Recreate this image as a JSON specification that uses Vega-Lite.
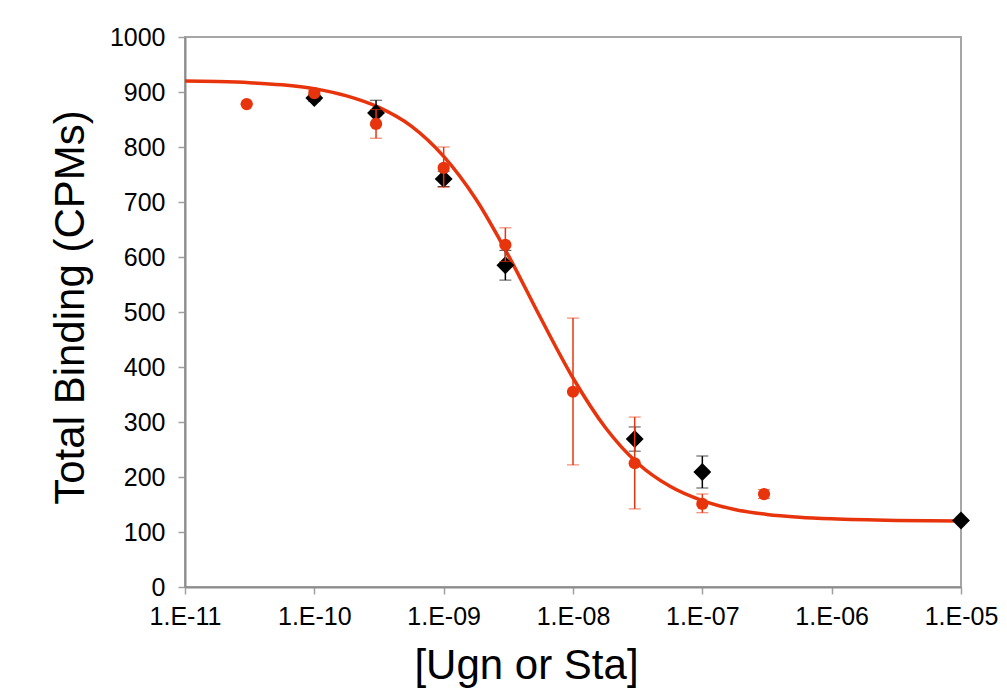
{
  "$schema": "https://vega.github.io/schema/vega-lite/v6.json",
  "width": 776,
  "height": 550,
  "autosize": "none",
  "padding": {"left": 185, "top": 37, "right": 46, "bottom": 111},
  "background": "white",
  "config": {
    "view": {"stroke": "#a6a6a6", "strokeWidth": 2},
    "font": "Liberation Sans"
  },
  "datasets": {
    "curve": [
      {"conc": 1e-11, "cpm": 920},
      {"conc": 1.778e-11, "cpm": 919},
      {"conc": 3.162e-11, "cpm": 917},
      {"conc": 5.623e-11, "cpm": 913},
      {"conc": 1e-10, "cpm": 906},
      {"conc": 1.778e-10, "cpm": 893},
      {"conc": 3.162e-10, "cpm": 872},
      {"conc": 5.623e-10, "cpm": 838},
      {"conc": 1e-9, "cpm": 783},
      {"conc": 1.778e-9, "cpm": 705},
      {"conc": 3.162e-9, "cpm": 603},
      {"conc": 5.623e-9, "cpm": 489},
      {"conc": 1e-8, "cpm": 380},
      {"conc": 1.778e-8, "cpm": 290},
      {"conc": 3.162e-8, "cpm": 225},
      {"conc": 5.623e-8, "cpm": 183},
      {"conc": 1e-7, "cpm": 157},
      {"conc": 1.778e-7, "cpm": 141},
      {"conc": 3.162e-7, "cpm": 132},
      {"conc": 5.623e-7, "cpm": 127},
      {"conc": 1e-6, "cpm": 124},
      {"conc": 3.162e-6, "cpm": 121},
      {"conc": 1e-5, "cpm": 120}
    ],
    "sta": [
      {"conc": 1e-10, "cpm": 889, "lo": 883, "hi": 895},
      {"conc": 3e-10, "cpm": 862, "lo": 840, "hi": 885},
      {"conc": 1e-9, "cpm": 742, "lo": 728, "hi": 756},
      {"conc": 3e-9, "cpm": 585, "lo": 558, "hi": 612},
      {"conc": 3e-8, "cpm": 269, "lo": 247, "hi": 291},
      {"conc": 1e-7, "cpm": 209, "lo": 180, "hi": 238},
      {"conc": 1e-5, "cpm": 121, "lo": 118, "hi": 124}
    ],
    "ugn": [
      {"conc": 3e-11, "cpm": 878, "lo": 878, "hi": 878},
      {"conc": 1e-10, "cpm": 898, "lo": 893, "hi": 903},
      {"conc": 3e-10, "cpm": 842, "lo": 816, "hi": 868},
      {"conc": 1e-9, "cpm": 762, "lo": 727, "hi": 800},
      {"conc": 3e-9, "cpm": 622, "lo": 592, "hi": 653},
      {"conc": 1e-8, "cpm": 355, "lo": 222, "hi": 489},
      {"conc": 3e-8, "cpm": 225, "lo": 142, "hi": 309},
      {"conc": 1e-7, "cpm": 151, "lo": 135, "hi": 169},
      {"conc": 3e-7, "cpm": 169, "lo": 161, "hi": 177}
    ]
  },
  "layer": [
    {
      "data": {"name": "curve"},
      "mark": {"type": "line", "color": "#e8340c", "strokeWidth": 3.5, "interpolate": "monotone", "clip": true},
      "encoding": {
        "x": {
          "field": "conc", "type": "quantitative", "title": "[Ugn or Sta]",
          "scale": {"type": "log", "domain": [1e-11, 1e-5], "nice": false},
          "axis": {
            "values": [1e-11, 1e-10, 1e-9, 1e-8, 1e-7, 1e-6, 1e-5],
            "labelExpr": "'1.E-' + (abs(round(log(datum.value)/LN10)) < 10 ? '0' : '') + abs(round(log(datum.value)/LN10))",
            "grid": false,
            "domainColor": "#8c8c8c", "domainWidth": 2,
            "tickColor": "#a0a0a0", "tickSize": 7, "tickWidth": 1.5,
            "labelFont": "Liberation Sans", "labelFontSize": 25, "labelColor": "black",
            "labelPadding": 10, "labelFlush": false, "labelOverlap": false,
            "titleFont": "Liberation Sans", "titleFontSize": 42, "titleFontWeight": "normal", "titleColor": "black",
            "titleX": 341, "titleY": 91, "titleAlign": "center", "titleBaseline": "alphabetic", "titleAnchor": null
          }
        },
        "y": {
          "field": "cpm", "type": "quantitative", "title": "Total Binding (CPMs)",
          "scale": {"domain": [0, 1000], "nice": false},
          "axis": {
            "values": [0, 100, 200, 300, 400, 500, 600, 700, 800, 900, 1000],
            "format": "d",
            "grid": false,
            "domainColor": "#8c8c8c", "domainWidth": 2,
            "tickColor": "#a0a0a0", "tickSize": 7, "tickWidth": 1.5,
            "labelFont": "Liberation Sans", "labelFontSize": 25, "labelColor": "black",
            "labelPadding": 13, "labelFlush": false, "labelOverlap": false,
            "titleFont": "Liberation Sans", "titleFontSize": 42, "titleFontWeight": "normal", "titleColor": "black",
            "titleX": -102, "titleY": 270, "titleAngle": -90, "titleAlign": "center", "titleBaseline": "alphabetic", "titleAnchor": null
          }
        }
      }
    },
    {
      "data": {"name": "sta"},
      "mark": {"type": "errorbar", "ticks": {"size": 12, "color": "black", "strokeWidth": 1.8}, "rule": {"color": "black", "strokeWidth": 1.5}},
      "encoding": {
        "x": {"field": "conc", "type": "quantitative", "title": "[Ugn or Sta]"},
        "y": {"field": "lo", "type": "quantitative", "title": "Total Binding (CPMs)"},
        "y2": {"field": "hi"}
      }
    },
    {
      "data": {"name": "sta"},
      "mark": {"type": "point", "shape": "diamond", "filled": true, "color": "black", "opacity": 1, "size": 320},
      "encoding": {
        "x": {"field": "conc", "type": "quantitative", "title": "[Ugn or Sta]"},
        "y": {"field": "cpm", "type": "quantitative", "title": "Total Binding (CPMs)"}
      }
    },
    {
      "data": {"name": "ugn"},
      "mark": {"type": "errorbar", "ticks": {"size": 12, "color": "#e8340c", "strokeWidth": 1.8}, "rule": {"color": "#e8340c", "strokeWidth": 1.5}},
      "encoding": {
        "x": {"field": "conc", "type": "quantitative", "title": "[Ugn or Sta]"},
        "y": {"field": "lo", "type": "quantitative", "title": "Total Binding (CPMs)"},
        "y2": {"field": "hi"}
      }
    },
    {
      "data": {"name": "ugn"},
      "mark": {"type": "circle", "color": "#e8340c", "opacity": 1, "size": 150},
      "encoding": {
        "x": {"field": "conc", "type": "quantitative", "title": "[Ugn or Sta]"},
        "y": {"field": "cpm", "type": "quantitative", "title": "Total Binding (CPMs)"}
      }
    }
  ]
}
